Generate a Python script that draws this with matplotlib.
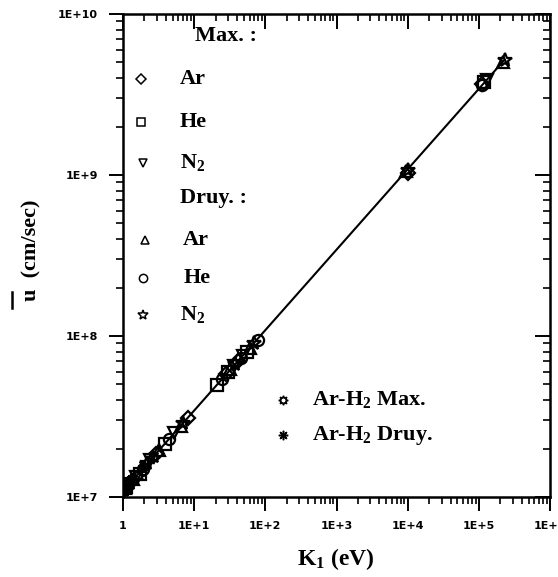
import numpy as np
import matplotlib
matplotlib.use("Agg")
import matplotlib.pyplot as plt
from matplotlib.ticker import FixedLocator, FixedFormatter, NullFormatter, LogLocator
from matplotlib.lines import Line2D

# fonts
plt.rcParams['font.family'] = ['DejaVu Sans']
plt.rcParams['mathtext.fontset'] = 'custom'
plt.rcParams['mathtext.rm'] = 'Liberation Serif:bold'
plt.rcParams['mathtext.bf'] = 'Liberation Serif:bold'
plt.rcParams['mathtext.it'] = 'Liberation Serif:bold'

# data (K1 in eV, mean velocity in cm/sec)
max_ar_k = [1.05, 1.3, 2.9, 8.1, 28, 41, 1.0e4, 1.12e5]
max_ar_u = [1.12e7, 1.24e7, 1.86e7, 3.1e7, 5.8e7, 7.0e7, 1.03e9, 3.70e9]

max_he_k = [1.1, 1.75, 3.9, 21, 30, 55, 1.2e5]
max_he_u = [1.15e7, 1.40e7, 2.14e7, 4.95e7, 5.95e7, 7.95e7, 3.80e9]

max_n2_k = [1.2, 1.5, 2.4, 5.2, 36, 48, 1.3e5]
max_n2_u = [1.2e7, 1.33e7, 1.70e7, 2.5e7, 6.5e7, 7.5e7, 3.92e9]

druy_ar_k = [1.08, 1.4, 3.2, 6.5, 32, 60, 9.5e3, 2.2e5]
druy_ar_u = [1.13e7, 1.29e7, 1.96e7, 2.78e7, 6.2e7, 8.4e7, 1.06e9, 5.05e9]

druy_he_k = [1.15, 1.9, 4.5, 25, 45, 78, 1.1e5]
druy_he_u = [1.17e7, 1.5e7, 2.3e7, 5.4e7, 7.3e7, 9.5e7, 3.6e9]

druy_n2_k = [1.25, 2.2, 7.0, 38, 70, 1.0e4, 2.3e5]
druy_n2_u = [1.22e7, 1.62e7, 2.9e7, 6.7e7, 9.1e7, 1.08e9, 5.2e9]

arh2_max_k = [1.0, 1.6, 2.6]
arh2_max_u = [1.09e7, 1.38e7, 1.76e7]

arh2_druy_k = [1.02, 1.35, 2.0]
arh2_druy_u = [1.1e7, 1.27e7, 1.55e7]

# fitted line
line_k = [1.0, 2.3e5]
line_u = [1.09e7, 5.2e9]

x_ticks = [1, 1e1, 1e2, 1e3, 1e4, 1e5, 1e6]
x_labels = ['1', '1E+1', '1E+2', '1E+3', '1E+4', '1E+5', '1E+6']
y_ticks = [1e7, 1e8, 1e9, 1e10]
y_labels = ['1E+7', '1E+8', '1E+9', '1E+10']

series = [
    (max_ar_k, max_ar_u, 'D', 6.5, 'Ar'),
    (max_he_k, max_he_u, 's', 7.5, 'He'),
    (max_n2_k, max_n2_u, 'v', 7, r'N$_2$'),
    (druy_ar_k, druy_ar_u, '^', 7, 'Ar'),
    (druy_he_k, druy_he_u, 'o', 7, 'He'),
    (druy_n2_k, druy_n2_u, '*', 9, r'N$_2$'),
    (arh2_max_k, arh2_max_u, (8, 1, 0), 8, r'Ar-H$_2$ Max.'),
    (arh2_druy_k, arh2_druy_u, (8, 2, 0), 8, r'Ar-H$_2$ Druy.'),
]

fig = plt.figure(figsize=(5.58, 5.77), dpi=100)
rect = [0.2204, 0.1386, 0.7653, 0.8371]
ax = fig.add_axes(rect)
ax.patch.set_visible(False)

ax.plot(line_k, line_u, color='black', lw=1.5, zorder=2)
for k, u, m, ms, lab in series:
    ax.plot(k, u, linestyle='none', marker=m, ms=ms * 1.15, mfc='none', mec='black', mew=1.6, zorder=3)

ax.set_xscale('log')
ax.set_yscale('log')
ax.set_xlim(1, 1e6)
ax.set_ylim(1e7, 1e10)

ax.xaxis.set_major_locator(FixedLocator(x_ticks))
ax.xaxis.set_major_formatter(FixedFormatter(x_labels))
ax.yaxis.set_major_locator(FixedLocator(y_ticks))
ax.yaxis.set_major_formatter(FixedFormatter(y_labels))
ax.xaxis.set_minor_locator(LogLocator(base=10, subs=np.arange(2, 10), numticks=20))
ax.yaxis.set_minor_locator(LogLocator(base=10, subs=np.arange(2, 10), numticks=20))
ax.xaxis.set_minor_formatter(NullFormatter())
ax.yaxis.set_minor_formatter(NullFormatter())
ax.tick_params(which='major', direction='out', length=10, width=1.4, labelsize=8, pad=7)
ax.tick_params(which='minor', direction='out', length=5, width=1.2)
ax.tick_params(axis='y', which='major', pad=8)
for lbl in ax.get_xticklabels() + ax.get_yticklabels():
    lbl.set_fontweight('bold')
for sp in ax.spines.values():
    sp.set_linewidth(1.8)

# inward ticks on top and right
ax2 = fig.add_axes(rect, frameon=False)
ax2.set_xscale('log')
ax2.set_yscale('log')
ax2.set_xlim(1, 1e6)
ax2.set_ylim(1e7, 1e10)
ax2.xaxis.set_major_locator(FixedLocator(x_ticks))
ax2.yaxis.set_major_locator(FixedLocator(y_ticks))
ax2.xaxis.set_minor_locator(LogLocator(base=10, subs=np.arange(2, 10), numticks=20))
ax2.yaxis.set_minor_locator(LogLocator(base=10, subs=np.arange(2, 10), numticks=20))
ax2.xaxis.tick_top()
ax2.yaxis.tick_right()
ax2.xaxis.set_major_formatter(NullFormatter())
ax2.yaxis.set_major_formatter(NullFormatter())
ax2.xaxis.set_minor_formatter(NullFormatter())
ax2.yaxis.set_minor_formatter(NullFormatter())
ax2.tick_params(which='major', direction='in', length=11, width=1.4)
ax2.tick_params(which='minor', direction='in', length=5, width=1.2)
ax2.patch.set_visible(False)

# key drawn inside the plot
tkw = dict(transform=ax.transAxes, fontsize=16, family='Liberation Serif',
           fontweight='bold', va='center', ha='left')
ax.text(0.169, 0.954, 'Max. :', **tkw)
ax.text(0.133, 0.619, 'Druy. :', **tkw)
key_pos = [
    (0.042, 0.865, 0.133),
    (0.042, 0.776, 0.133),
    (0.047, 0.692, 0.133),
    (0.052, 0.532, 0.141),
    (0.047, 0.453, 0.141),
    (0.047, 0.377, 0.133),
    (0.375, 0.201, 0.443),
    (0.375, 0.128, 0.443),
]
for (k, u, m, ms, lab), (mx, my, tx) in zip(series, key_pos):
    ax.plot([mx], [my], marker=m, ms=ms * 0.85, mfc='none', mec='black', mew=1.1,
            transform=ax.transAxes, clip_on=False, linestyle='none')
    ax.text(tx, my, lab, **tkw)

# axis titles
fig.text(336 / 558, 1 - 559 / 577, r'K$_1$ (eV)', fontsize=17, family='Liberation Serif',
         fontweight='bold', ha='center', va='center')
fig.text(31 / 558, 1 - 250 / 577, 'u  (cm/sec)', fontsize=16, family='Liberation Serif',
         fontweight='bold', rotation=90, ha='center', va='center')
fig.add_artist(Line2D([12 / 558, 12 / 558], [1 - 308 / 577, 1 - 292 / 577],
                      color='black', lw=1.8))

fig.savefig('out.png', dpi=100)
